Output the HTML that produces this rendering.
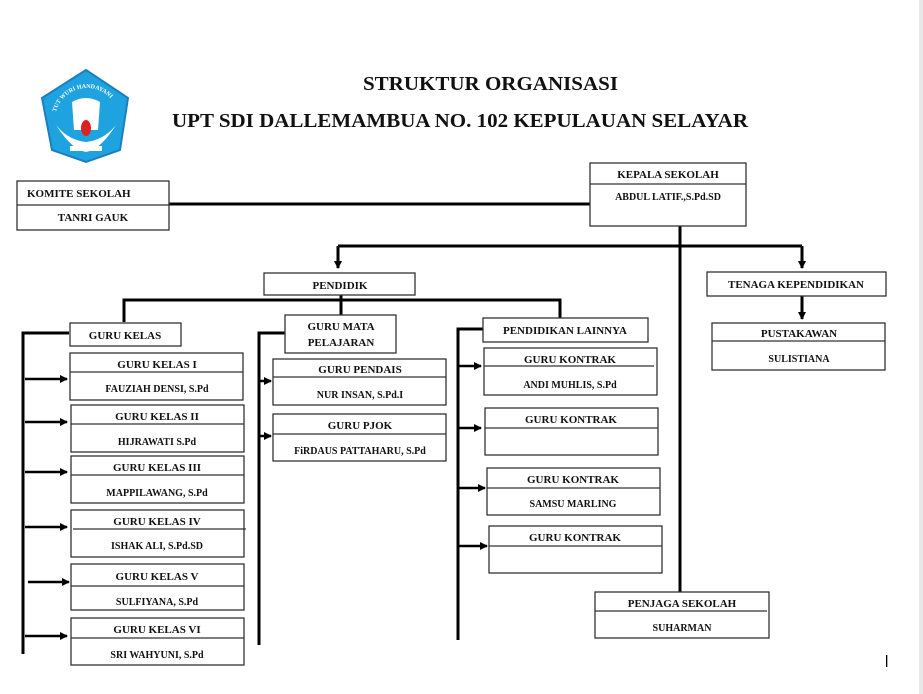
<!DOCTYPE html>
<html><head><meta charset="utf-8"><style>
html,body{margin:0;padding:0;background:#fff;}
svg{display:block;}
text{font-family:"Liberation Serif",serif;font-weight:bold;fill:#111;}
</style></head><body>
<svg width="923" height="694" viewBox="0 0 923 694" xmlns="http://www.w3.org/2000/svg">
<defs>
<marker id="a" markerWidth="8" markerHeight="8" refX="7" refY="4" orient="auto" markerUnits="userSpaceOnUse"><path d="M0,0 L8,4 L0,8 z" fill="#000"/></marker>
<path id="arc" d="M56,112 A32,32 0 0 1 118,112"/>
</defs>
<rect x="919" y="0" width="4" height="694" fill="#e8e8e8"/>
<!-- logo -->
<path d="M86,70 L128,98 L120,150 L86,162 L52,150 L42,98 Z" fill="#1fa3e0" stroke="#1b7fc0" stroke-width="2"/>
<path d="M72,102 Q86,94 100,102 L98,130 L74,130 Z" fill="#fff"/>
<path d="M56,125 Q72,150 86,152 Q100,150 116,125 Q104,140 86,142 Q68,140 56,125 Z" fill="#fff"/>
<ellipse cx="86" cy="128" rx="5" ry="8" fill="#d22"/>
<rect x="70" y="146" width="32" height="5" fill="#fff"/>
<text font-size="6" style="fill:#fff"><textPath href="#arc">TUT WURI HANDAYANI</textPath></text>
<!-- titles -->
<text x="363" y="90" font-size="20" textLength="255" lengthAdjust="spacingAndGlyphs">STRUKTUR ORGANISASI</text>
<text x="172" y="127" font-size="20" textLength="576" lengthAdjust="spacingAndGlyphs">UPT SDI DALLEMAMBUA NO. 102 KEPULAUAN SELAYAR</text>

<g fill="none" stroke="#000" stroke-width="3">
<path d="M169,204 H590"/>
<path d="M680,226 V592"/>
<path d="M338,246 H802"/>
<path d="M338,246 V268" marker-end="url(#a)"/>
<path d="M802,246 V268" marker-end="url(#a)"/>
<path d="M802,296 V319" marker-end="url(#a)"/>
<path d="M124,322 V300 H560 V318"/>
<path d="M341,295 V315"/>
<path d="M69,333 H23 V654"/>
<path d="M285,333 H259 V645"/>
<path d="M483,329 H458 V640"/>
</g>
<g stroke="#000" stroke-width="2.5" marker-end="url(#a)">
<path d="M25,379 H67"/><path d="M25,422 H67"/><path d="M25,472 H67"/><path d="M25,527 H67"/><path d="M28,582 H69"/><path d="M25,636 H67"/>
<path d="M259,381 H271"/><path d="M259,436 H271"/>
<path d="M458,366 H481"/><path d="M458,428 H481"/><path d="M458,488 H485"/><path d="M458,546 H487"/>
</g>

<g fill="#fff" stroke="#333" stroke-width="1.3">
<rect x="17" y="181" width="152" height="49"/><path d="M17,205 H169"/>
<rect x="590" y="163" width="156" height="63"/><path d="M590,184 H746"/>
<rect x="264" y="273" width="151" height="22"/>
<rect x="707" y="272" width="179" height="24"/>
<rect x="712" y="323" width="173" height="47"/><path d="M712,341 H885"/>
<rect x="70" y="323" width="111" height="23"/>
<rect x="285" y="315" width="111" height="38"/>
<rect x="483" y="318" width="165" height="24"/>
<rect x="70" y="353" width="173" height="47"/><path d="M70,372 H243"/>
<rect x="71" y="405" width="173" height="47"/><path d="M71,424 H244"/>
<rect x="71" y="456" width="173" height="47"/><path d="M71,475 H244"/>
<rect x="71" y="510" width="173" height="47"/><path d="M73,529 H246"/>
<rect x="71" y="564" width="173" height="46"/><path d="M71,586 H244"/>
<rect x="71" y="618" width="173" height="47"/><path d="M71,638 H244"/>
<rect x="273" y="359" width="173" height="46"/><path d="M273,377 H446"/>
<rect x="273" y="414" width="173" height="47"/><path d="M273,434 H446"/>
<rect x="484" y="348" width="173" height="47"/><path d="M484,366 H654"/>
<rect x="485" y="408" width="173" height="47"/><path d="M485,428 H658"/>
<rect x="487" y="468" width="173" height="47"/><path d="M487,488 H660"/>
<rect x="489" y="526" width="173" height="47"/><path d="M489,546 H662"/>
<rect x="595" y="592" width="174" height="46"/><path d="M595,611 H767"/>
</g>

<g font-size="11" text-anchor="middle">
<text x="27" y="197" text-anchor="start">KOMITE SEKOLAH</text>
<text x="93" y="221">TANRI GAUK</text>
<text x="668" y="178">KEPALA SEKOLAH</text>
<text x="668" y="200" font-size="10">ABDUL LATIF.,S.Pd.SD</text>
<text x="340" y="289">PENDIDIK</text>
<text x="796" y="288">TENAGA KEPENDIDIKAN</text>
<text x="799" y="337">PUSTAKAWAN</text>
<text x="799" y="362" font-size="10">SULISTIANA</text>
<text x="125" y="339">GURU KELAS</text>
<text x="341" y="330">GURU MATA</text>
<text x="341" y="346">PELAJARAN</text>
<text x="565" y="334">PENDIDIKAN LAINNYA</text>
<text x="157" y="368">GURU KELAS I</text>
<text x="157" y="392" font-size="10">FAUZIAH DENSI, S.Pd</text>
<text x="157" y="420">GURU KELAS II</text>
<text x="157" y="445" font-size="10">HIJRAWATI S.Pd</text>
<text x="157" y="471">GURU KELAS III</text>
<text x="157" y="496" font-size="10">MAPPILAWANG, S.Pd</text>
<text x="157" y="525">GURU KELAS IV</text>
<text x="157" y="549" font-size="10">ISHAK ALI, S.Pd.SD</text>
<text x="157" y="580">GURU KELAS V</text>
<text x="157" y="605" font-size="10">SULFIYANA, S.Pd</text>
<text x="157" y="633">GURU KELAS VI</text>
<text x="157" y="658" font-size="10">SRI WAHYUNI, S.Pd</text>
<text x="360" y="373">GURU PENDAIS</text>
<text x="360" y="398" font-size="10">NUR INSAN, S.Pd.I</text>
<text x="360" y="429">GURU PJOK</text>
<text x="360" y="454" font-size="10">FiRDAUS PATTAHARU, S.Pd</text>
<text x="570" y="363">GURU KONTRAK</text>
<text x="570" y="388" font-size="10">ANDI MUHLIS, S.Pd</text>
<text x="571" y="423">GURU KONTRAK</text>
<text x="573" y="483">GURU KONTRAK</text>
<text x="573" y="507" font-size="10">SAMSU MARLING</text>
<text x="575" y="541">GURU KONTRAK</text>
<text x="682" y="607">PENJAGA SEKOLAH</text>
<text x="682" y="631" font-size="10">SUHARMAN</text>
</g>
<rect x="886" y="655" width="1.3" height="12" fill="#000"/>
</svg>
</body></html>
